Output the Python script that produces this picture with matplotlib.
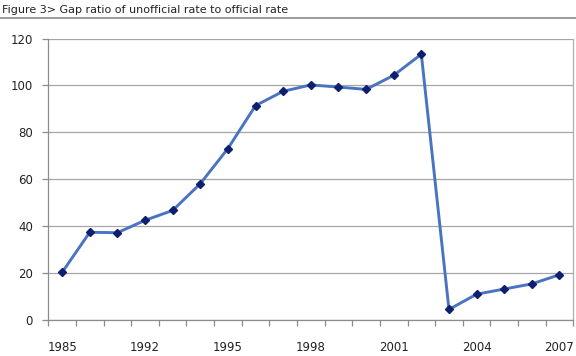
import matplotlib
matplotlib.use("Agg")
import matplotlib.pyplot as plt
import numpy as np

# years on the category axis (only every third one is labelled)
years = ["1985", "1990", "1991", "1992", "1993", "1994", "1995", "1996", "1997", "1998",
         "1999", "2000", "2001", "2002", "2003", "2004", "2005", "2006", "2007"]
# gap ratio
gap_ratio = [20.3, 37.4, 37.2, 42.5, 46.7, 58.1, 73.1, 91.4, 97.5, 100.2,
             99.3, 98.3, 104.3, 113.3, 4.5, 11.0, 13.2, 15.4, 19.3]
title = "Figure 3> Gap ratio of unofficial rate to official rate"

plt.rcParams['font.family'] = ['DejaVu Sans']
grey = '#8c8c8c'

fig = plt.figure(figsize=(5.76, 3.56), dpi=100)
ax = fig.add_axes([48.3 / 576, 1 - 320 / 356, (573.3 - 48.3) / 576, (320 - 38.5) / 356])

x = np.arange(len(years))
ax.plot(x, gap_ratio, color='#4a73c2', lw=2.1, marker='D', ms=4.5,
        mfc='#0d1f6e', mec='#0d1f6e', zorder=3)

ax.set_xlim(-0.5, len(years) - 0.5)
ax.set_ylim(0, 120)
ax.set_yticks(range(0, 121, 20))
ax.yaxis.grid(True, color='#a6a6a6', lw=0.9)
ax.set_axisbelow(True)

# ticks between categories, labels under every third category
ax.set_xticks(np.arange(-0.5, len(years), 1.0))
ax.set_xticklabels([])
ax.set_xticks(x[::3], minor=True)
ax.set_xticklabels(years[::3], minor=True)
ax.tick_params(axis='x', which='major', length=4, color=grey, width=0.9)
ax.tick_params(axis='x', which='minor', length=0, pad=15, labelsize=8.5, labelcolor='#222222')
ax.tick_params(axis='y', length=4, color=grey, width=0.9, pad=7, labelsize=8.5, labelcolor='#222222')

for side in ['left', 'bottom', 'right']:
    ax.spines[side].set_color(grey)
    ax.spines[side].set_linewidth(0.9)
ax.spines['top'].set_visible(False)
ax.spines['right'].set_color('#b0b0b0')

fig.text(2 / 576, 1 - 13 / 356, title, fontsize=8, color='#222222', va='baseline', ha='left')
fig.add_artist(plt.Line2D([0, 1], [1 - 18 / 356, 1 - 18 / 356], transform=fig.transFigure,
                          color='#8a8a8a', lw=1.2))

fig.savefig("out.png", dpi=100)
